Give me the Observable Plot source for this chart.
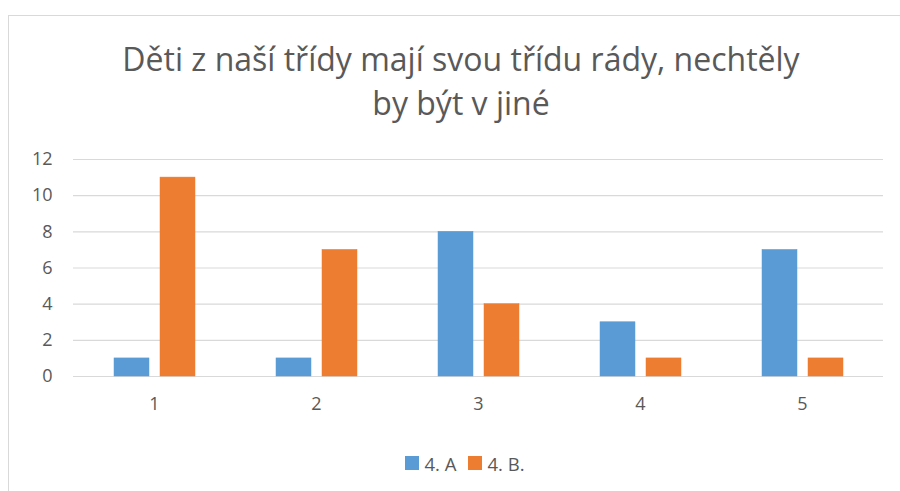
<!DOCTYPE html>
<html>
<head>
<meta charset="utf-8">
<script src="https://cdn.jsdelivr.net/npm/d3@7"></script>
<script src="https://cdn.jsdelivr.net/npm/@observablehq/plot@0.6"></script>
<style>
  html, body { margin: 0; padding: 0; background: #fff; }
  body { width: 900px; height: 491px; position: relative; overflow: hidden; font-family: "Open Sans", sans-serif; }
  #frame { position: absolute; left: 8px; top: 15px; width: 960px; height: 560px; border: 1px solid #d9d9d9; }
  #title { position: absolute; left: 0; top: 37px; width: 922px; text-align: center; font-size: 32px; line-height: 44px; color: #595959; }
  #chart { position: absolute; left: 0; top: 140px; }
  #legend { position: absolute; left: 0; top: 450px; width: 930px; text-align: center; font-size: 18.5px; color: #595959; }
  #legend span.item { display: inline-flex; align-items: center; margin: 0 6px; }
  #legend span.sw { display: inline-block; width: 14px; height: 14px; margin-right: 5px; }
</style>
</head>
<body>
<div id="frame"></div>
<div id="title">Děti z naší třídy mají svou třídu rády, nechtěly<br>by být v jiné</div>
<div id="chart"></div>
<div id="legend"></div>
<script>
const categories = ["1", "2", "3", "4", "5"];
const series = ["4. A", "4. B."];
const valuesA = [1, 1, 8, 3, 7];
const valuesB = [11, 7, 4, 1, 1];
const yTicks = [0, 2, 4, 6, 8, 10, 12];
const colors = ["#5B9BD5", "#ED7D31"];

const data = [];
categories.forEach((c, i) => {
  data.push({cat: c, series: series[0], value: valuesA[i]});
  data.push({cat: c, series: series[1], value: valuesB[i]});
});

const chart = Plot.plot({
  width: 900,
  height: 300,
  marginTop: 19,
  marginBottom: 64,
  marginLeft: 73,
  marginRight: 17,
  style: {fontFamily: "'Open Sans', sans-serif", fontSize: "18px", color: "#595959", background: "transparent"},
  fx: {domain: categories, padding: 0, label: null, axis: "bottom", tickSize: 0, tickPadding: 21},
  x: {domain: series, paddingInner: 0.24, paddingOuter: 0.87, axis: null},
  y: {domain: [0, 12], ticks: yTicks, label: null, tickSize: 0, tickPadding: 21},
  color: {domain: series, range: colors},
  marks: [
    Plot.ruleY(yTicks, {stroke: "#d9d9d9", strokeWidth: 1.2}),
    Plot.barY(data, {fx: "cat", x: "series", y: "value", fill: "series", stroke: "series", strokeWidth: 0.5})
  ]
});
document.getElementById("chart").appendChild(chart);

const legend = document.getElementById("legend");
series.forEach((s, i) => {
  const item = document.createElement("span");
  item.className = "item";
  const sw = document.createElement("span");
  sw.className = "sw";
  sw.style.background = colors[i];
  item.appendChild(sw);
  item.appendChild(document.createTextNode(s));
  legend.appendChild(item);
});
</script>
</body>
</html>
